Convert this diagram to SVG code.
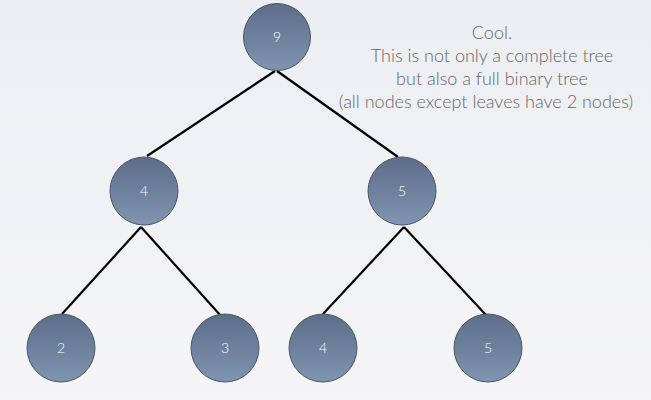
<svg xmlns="http://www.w3.org/2000/svg" width="651" height="400" viewBox="0 0 651 400">
<defs>
<linearGradient id="bg" x1="0" y1="0" x2="0" y2="1"><stop offset="0" stop-color="#eceef1"/><stop offset="1" stop-color="#f5f5f7"/></linearGradient>
<linearGradient id="ng" x1="0" y1="0" x2="0" y2="1"><stop offset="0" stop-color="#5c6d88"/><stop offset="1" stop-color="#7f95b1"/></linearGradient>
</defs>
<style>
.n{fill:url(#ng);stroke:#4a5568;stroke-width:1}
.l{font-family:Lato,"Liberation Sans",sans-serif;font-weight:300;font-size:14px;fill:#fff;text-anchor:middle}
.e{stroke:#000;stroke-width:2.2;fill:none}
.t{font-family:Lato,"Liberation Sans",sans-serif;font-weight:300;font-size:18px;fill:#666;text-anchor:middle}
</style>
<rect width="651" height="400" fill="url(#bg)"/>
<g id="edges">
<line class="e" x1="275" y1="71" x2="147" y2="156"/>
<line class="e" x1="277" y1="71" x2="398" y2="157"/>
<line class="e" x1="141" y1="227" x2="62" y2="314"/>
<line class="e" x1="141" y1="227" x2="221" y2="316"/>
<line class="e" x1="404" y1="227" x2="323" y2="314"/>
<line class="e" x1="404" y1="227" x2="486" y2="315"/>
</g>
<g id="n9"><circle class="n" cx="277" cy="37" r="33.5"/><text class="l" x="277" y="42">9</text></g>
<g id="n4"><circle class="n" cx="144" cy="191" r="34"/><text class="l" x="144" y="196">4</text></g>
<g id="n5"><circle class="n" cx="402" cy="191" r="34"/><text class="l" x="402" y="196">5</text></g>
<g id="n2"><circle class="n" cx="61" cy="348" r="34"/><text class="l" x="61" y="353">2</text></g>
<g id="n3"><circle class="n" cx="225" cy="348" r="34"/><text class="l" x="225" y="353">3</text></g>
<g id="n4b"><circle class="n" cx="323" cy="348" r="34"/><text class="l" x="323" y="353">4</text></g>
<g id="n5b"><circle class="n" cx="488" cy="348" r="34"/><text class="l" x="488" y="353">5</text></g>
<g id="note">
<text class="t" x="492" y="39">Cool.</text>
<text class="t" x="492" y="62">This is not only a complete tree</text>
<text class="t" x="492" y="85">but also a full binary tree</text>
<text class="t" x="486" y="108">(all nodes except leaves have 2 nodes)</text>
</g>
</svg>
